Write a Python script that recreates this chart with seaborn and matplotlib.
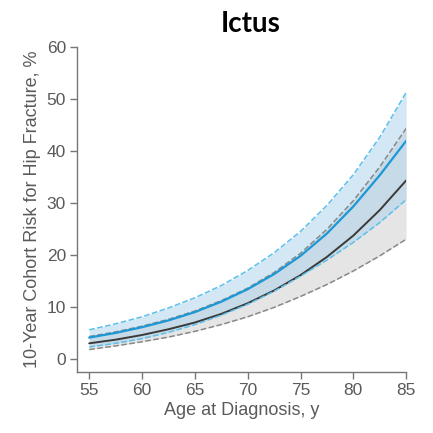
import matplotlib
matplotlib.use("Agg")
import matplotlib.pyplot as plt
import seaborn as sns
import pandas as pd

age = [55, 57.5, 60, 62.5, 65, 67.5, 70, 72.5, 75, 77.5, 80, 82.5, 85]
ictus_est = [4.2, 5.1, 6.2, 7.5, 9.1, 11.1, 13.5, 16.4, 19.9, 24.2, 29.4, 35.4, 42.0]
ictus_lo = [2.4, 3.1, 4.0, 5.2, 6.7, 8.5, 10.6, 13.1, 16.0, 19.1, 22.5, 26.3, 30.7]
ictus_hi = [5.7, 6.85, 8.2, 9.9, 11.85, 14.2, 17.1, 20.5, 24.6, 29.6, 35.5, 42.7, 51.3]
ref_est = [3.1, 3.8, 4.7, 5.8, 7.1, 8.75, 10.8, 13.25, 16.2, 19.7, 23.8, 28.7, 34.4]
ref_lo = [1.9, 2.6, 3.4, 4.3, 5.4, 6.7, 8.2, 10.0, 12.1, 14.4, 17.0, 19.9, 23.1]
ref_hi = [4.4, 5.3, 6.4, 7.7, 9.3, 11.3, 13.7, 16.7, 20.4, 25.0, 30.5, 37.0, 44.4]
x_ticks = [55, 60, 65, 70, 75, 80, 85]
y_ticks = [0, 10, 20, 30, 40, 50, 60]

df = pd.DataFrame({"age": age, "ictus_est": ictus_est, "ictus_lo": ictus_lo,
                   "ictus_hi": ictus_hi, "ref_est": ref_est, "ref_lo": ref_lo,
                   "ref_hi": ref_hi})

sns.set_style("ticks")
plt.rcParams["font.family"] = ["Liberation Sans", "DejaVu Sans"]

fig = plt.figure(figsize=(4.33, 4.33), dpi=100)
ax = fig.add_axes([0.178, 0.141, 0.76, 0.75])

ax.fill_between(df["age"], df["ref_lo"], df["ref_hi"], color="#d4d4d4", alpha=0.6, lw=0)
ax.fill_between(df["age"], df["ictus_lo"], df["ictus_hi"], color="#a9d1ea", alpha=0.5, lw=0)

gray_d = "#888888"
blue_d = "#5cc0ea"
sns.lineplot(data=df, x="age", y="ref_lo", ax=ax, color=gray_d, linestyle="--", lw=1.1)
sns.lineplot(data=df, x="age", y="ref_hi", ax=ax, color=gray_d, linestyle="--", lw=1.1)
sns.lineplot(data=df, x="age", y="ref_est", ax=ax, color="#3a3a3a", lw=1.4)
sns.lineplot(data=df, x="age", y="ictus_lo", ax=ax, color=blue_d, linestyle="--", lw=1.1)
sns.lineplot(data=df, x="age", y="ictus_hi", ax=ax, color=blue_d, linestyle="--", lw=1.1)
sns.lineplot(data=df, x="age", y="ictus_est", ax=ax, color="#1b98d5", lw=1.6)

ax.set_xlim(53.85, 85)
ax.set_ylim(-2.4, 60)
ax.set_xticks(x_ticks)
ax.set_yticks(y_ticks)
for s in ["top", "right"]:
    ax.spines[s].set_visible(False)
for s in ["left", "bottom"]:
    ax.spines[s].set_color("#777777")
    ax.spines[s].set_linewidth(1.0)
ax.tick_params(axis="both", colors="#777777", labelcolor="#5a5a5a",
               labelsize=12.5, length=5, width=1.0, direction="out", pad=3)
ax.set_xlabel("Age at Diagnosis, y", fontsize=13, color="#5a5a5a", labelpad=3)
ax.set_ylabel("10-Year Cohort Risk for Hip Fracture, %", fontsize=13,
              color="#5a5a5a", labelpad=4)

fig.text(0.578, 0.945, "Ictus", ha="center", va="center", fontsize=20,
         fontweight="bold", family=["Lato", "DejaVu Sans"], color="black")

fig.savefig("out.png", dpi=100, facecolor="white")
